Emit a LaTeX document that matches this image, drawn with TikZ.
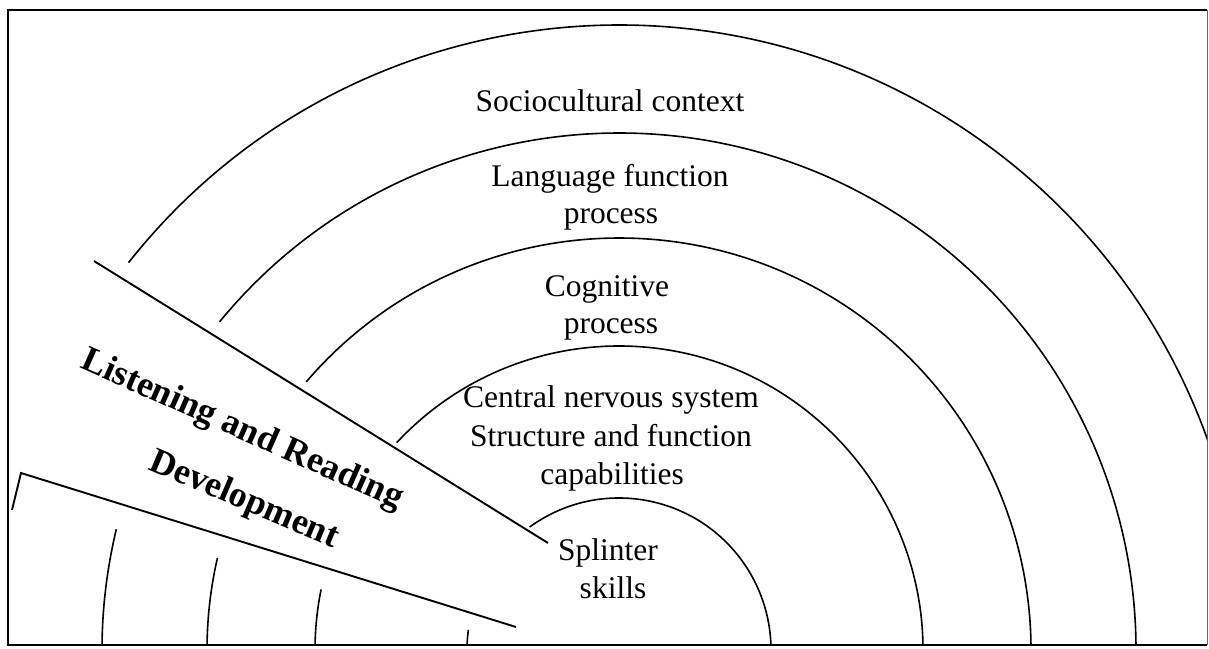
\documentclass[tikz,border=0pt]{standalone}
\usepackage{fontspec}
\setmainfont{Liberation Serif}
\begin{document}
\begin{tikzpicture}[x=1pt,y=1pt,
  ring/.style={line width=1.6pt, black},
  wedge/.style={line width=1.9pt, black},
  lbl/.style={anchor=base, inner sep=0pt, font=\fontsize{31.5}{37}\selectfont},
  big/.style={anchor=base, inner sep=0pt, font=\fontsize{36}{40}\selectfont\bfseries}]
\useasboundingbox (0,0) rectangle (1209,648);
% frame
\coordinate (tl) at (8,638);
\coordinate (bl) at (8,3);
\coordinate (br) at (1207,3);
\coordinate (tr) at (1207,638);
\draw[line width=2.4pt] (tr) -- (tl) -- (bl) -- (br);
\draw[line width=1pt, black!60] (br) -- (tr);
\coordinate (C) at (619,-2);
\begin{scope}
\clip (8,3) rectangle (1207,638);
% upper arcs
\draw[ring] ([shift={(C)}]126:152) arc[start angle=126, end angle=-5, radius=152pt];
\draw[ring] ([shift={(C)}]137:304) arc[start angle=137, end angle=-5, radius=304pt];
\draw[ring] ([shift={(C)}]139.4:412) arc[start angle=139.4, end angle=-5, radius=412pt];
\draw[ring] ([shift={(C)}]140.6:517) arc[start angle=140.6, end angle=-5, radius=517pt];
\draw[ring] ([shift={(C)}]141.7:625) arc[start angle=141.7, end angle=-5, radius=625pt];
% lower arc pieces
\draw[ring] ([shift={(C)}]172.4:152) arc[start angle=172.4, end angle=185, radius=152pt];
\draw[ring] ([shift={(C)}]168.5:304) arc[start angle=168.5, end angle=185, radius=304pt];
\draw[ring] ([shift={(C)}]167.1:412) arc[start angle=167.1, end angle=185, radius=412pt];
\draw[ring] ([shift={(C)}]166.5:517) arc[start angle=166.5, end angle=185, radius=517pt];
\end{scope}
% wedge lines
\coordinate (ua) at (94,387);
\coordinate (ub) at (548,105);
\draw[wedge] (ua) -- (ub);
\coordinate (lt) at (12,138);
\coordinate (la) at (21,175);
\coordinate (lb) at (516,21);
\draw[wedge] (lt) -- (la) -- (lb);
% labels
\node[lbl] (soc) at (610,536.3) {Sociocultural context};
\node[lbl] (lang1) at (610,461.3) {Language function};
\node[lbl] (lang2) at (611,424) {process};
\node[lbl] (cog1) at (607,351) {Cognitive};
\node[lbl] (cog2) at (611,314) {process};
\node[lbl] (cns1) at (611,240) {Central nervous system};
\node[lbl] (cns2) at (611,201) {Structure and function};
\node[lbl] (cns3) at (612,164) {capabilities};
\node[lbl] (spl1) at (608,88) {Splinter};
\node[lbl] (spl2) at (613,50) {skills};
\node[big, rotate=-24] (lr) at (238.5,209.5) {Listening and Reading};
\node[big, rotate=-23] (dev) at (240.5,139.5) {Development};
\end{tikzpicture}
\end{document}
